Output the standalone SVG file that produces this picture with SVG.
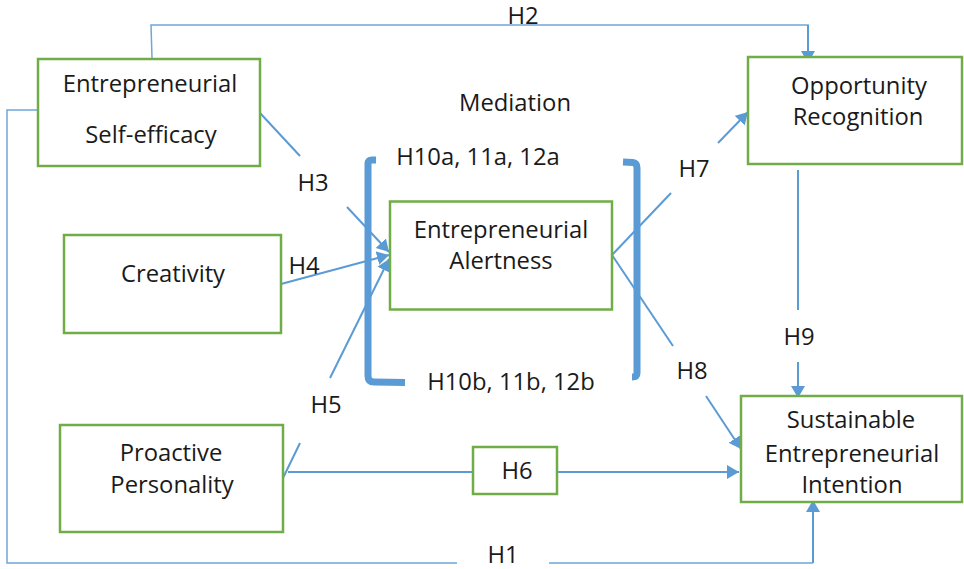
<svg xmlns="http://www.w3.org/2000/svg" width="964" height="569" viewBox="0 0 964 569">
<defs>
<marker id="ah" markerUnits="userSpaceOnUse" markerWidth="13" markerHeight="15" refX="12" refY="7" orient="auto">
<path d="M0,0 L12,7 L0,14 z" fill="#5B9BD5"/>
</marker>
<style>
.box{fill:#fff;stroke:#70AD47;stroke-width:2.5}
.t{font-family:"Open Sans","DejaVu Sans",sans-serif;font-size:23.8px;fill:#1a1a1a;text-anchor:middle}
.c{fill:none;stroke:#5B9BD5;stroke-width:2}
.thin{fill:none;stroke:#6FA6DC;stroke-width:1.5}
.br{fill:none;stroke:#5B9BD5;stroke-width:7;stroke-linejoin:round}
</style>
</defs>
<rect width="964" height="569" fill="#fff"/>
<g id="connectors">
<polyline class="thin" points="152,58 151,25 808,25 808,45"/>
<path class="c" d="M808,25 V63" marker-end="url(#ah)"/>
<polyline class="thin" points="39,110 7,110 7,563 457,563"/>
<polyline class="thin" points="549,563 813,563"/>
<path class="c" d="M813,563 V500" marker-end="url(#ah)"/>
<line class="c" x1="260" y1="113" x2="300" y2="156"/>
<path class="c" d="M347,207 L389,252" marker-end="url(#ah)"/>
<path class="c" d="M281,284 L389,255" marker-end="url(#ah)"/>
<line class="c" x1="283" y1="478" x2="300" y2="443"/>
<path class="c" d="M330,378 L389,259" marker-end="url(#ah)"/>
<line class="c" x1="288" y1="472" x2="473" y2="472"/>
<path class="c" d="M557,472 H739" marker-end="url(#ah)"/>
<line class="c" x1="612" y1="255" x2="671" y2="193"/>
<path class="c" d="M718,143 L748,112" marker-end="url(#ah)"/>
<line class="c" x1="612" y1="255" x2="673" y2="346"/>
<path class="c" d="M706,396 L741,449" marker-end="url(#ah)"/>
<line class="c" x1="798" y1="170" x2="798" y2="310"/>
<path class="c" d="M798,362 V398" marker-end="url(#ah)"/>
<path class="br" d="M376,160 L372,160 Q368,160 368,164 V376 Q368,382 374,382 L405,382.5"/>
<path class="br" d="M623,162 L633,162.5 Q637,163 637,168 V373 Q637,377 632,377"/>
</g>
<g id="self-efficacy">
<rect class="box" x="38" y="59" width="222" height="107"/>
<text class="t" x="150" y="92">Entrepreneurial</text>
<text class="t" x="151" y="143">Self-efficacy</text>
</g>
<g id="opportunity">
<rect class="box" x="748" y="57" width="214" height="107"/>
<text class="t" x="859" y="94">Opportunity</text>
<text class="t" x="858" y="125">Recognition</text>
</g>
<g id="creativity">
<rect class="box" x="64" y="235" width="217" height="98"/>
<text class="t" x="173" y="282">Creativity</text>
</g>
<g id="alertness">
<rect class="box" x="390" y="201.5" width="222" height="108"/>
<text class="t" x="501" y="238">Entrepreneurial</text>
<text class="t" x="501" y="269">Alertness</text>
</g>
<g id="proactive">
<rect class="box" x="60" y="425" width="223" height="107"/>
<text class="t" x="171" y="461">Proactive</text>
<text class="t" x="172" y="493">Personality</text>
</g>
<g id="h6">
<rect class="box" x="473" y="447" width="84" height="47"/>
<text class="t" x="517" y="479">H6</text>
</g>
<g id="intention">
<rect class="box" x="741" y="396" width="221" height="106"/>
<text class="t" x="851" y="428">Sustainable</text>
<text class="t" x="852" y="462">Entrepreneurial</text>
<text class="t" x="852" y="493">Intention</text>
</g>
<g id="labels">
<text class="t" x="523" y="24">H2</text>
<text class="t" x="515" y="111">Mediation</text>
<text class="t" x="478" y="165">H10a, 11a, 12a</text>
<text class="t" x="313" y="191">H3</text>
<text class="t" x="694" y="177">H7</text>
<text class="t" x="304" y="274">H4</text>
<text class="t" x="799" y="345">H9</text>
<text class="t" x="692" y="379">H8</text>
<text class="t" x="511" y="390">H10b, 11b, 12b</text>
<text class="t" x="326" y="413">H5</text>
<text class="t" x="503" y="563">H1</text>
</g>
</svg>
